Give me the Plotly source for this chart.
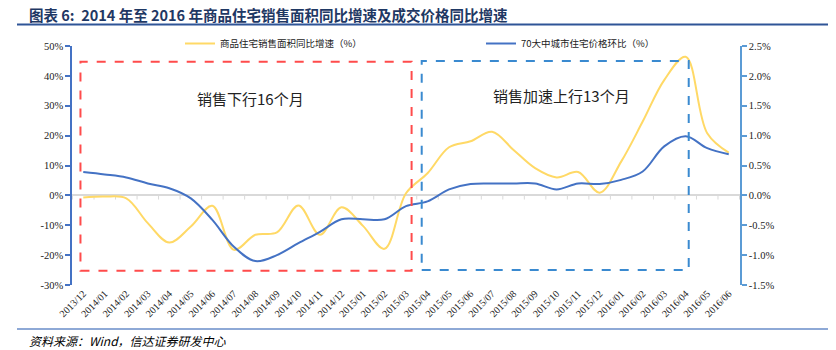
import plotly.graph_objects as go

months = ["2013/12", "2014/01", "2014/02", "2014/03", "2014/04", "2014/05", "2014/06", "2014/07",
          "2014/08", "2014/09", "2014/10", "2014/11", "2014/12", "2015/01", "2015/02", "2015/03",
          "2015/04", "2015/05", "2015/06", "2015/07", "2015/08", "2015/09", "2015/10", "2015/11",
          "2015/12", "2016/01", "2016/02", "2016/03", "2016/04", "2016/05", "2016/06"]

sales_area_yoy = [-0.7, -0.4, -1.0, -9.3, -15.8, -10.4, -3.5, -18.2, -13.2, -12.4, -3.4, -13.2,
                  -4.0, -10.2, -17.9, 0.7, 7.4, 16.1, 18.1, 21.3, 15.2, 9.1, 6.0, 7.8,
                  0.9, 11.3, 24.7, 38.6, 46.4, 20.8, 14.3]

price_mom = [0.39, 0.35, 0.30, 0.20, 0.12, -0.05, -0.41, -0.86, -1.10, -1.00, -0.80, -0.61,
             -0.40, -0.40, -0.40, -0.18, -0.10, 0.10, 0.19, 0.20, 0.20, 0.20, 0.10, 0.20,
             0.19, 0.26, 0.40, 0.82, 0.99, 0.79, 0.69]

left_ticks = [-30, -20, -10, 0, 10, 20, 30, 40, 50]
right_ticks = [-1.5, -1.0, -0.5, 0.0, 0.5, 1.0, 1.5, 2.0, 2.5]

name_area = "商品住宅销售面积同比增速（%）"
name_price = "70大中城市住宅价格环比（%）"
title_text = "图表 6:  2014 年至 2016 年商品住宅销售面积同比增速及成交价格同比增速"
source_text = "资料来源：Wind，信达证券研发中心"
label_down = "销售下行16个月"
label_up = "销售加速上行13个月"

W, H = 836, 350
L, R, T, B = 72, 96, 46, 65
PW = W - L - R
PH = H - T - B


def px(x):
    return (x - L) / PW


def py(y):
    return 1 - (y - T) / PH


SERIF = "Liberation Serif"
CJK = "Noto Sans CJK SC"

fig = go.Figure()
fig.add_trace(go.Scatter(x=months, y=sales_area_yoy, name=name_area, mode="lines",
                         line=dict(color="#FFD966", width=2, shape="spline", smoothing=1.0),
                         yaxis="y", legend="legend"))
fig.add_trace(go.Scatter(x=months, y=price_mom, name=name_price, mode="lines",
                         line=dict(color="#4472C4", width=2, shape="spline", smoothing=1.0),
                         yaxis="y2", legend="legend2"))

shapes = []
# dashed boxes
shapes.append(dict(type="rect", xref="x", yref="y", x0=-0.13, x1=15.26, y0=-25.25, y1=44.7,
                   line=dict(color="#FF4B4B", width=2, dash="dash"), layer="above"))
shapes.append(dict(type="rect", xref="x", yref="y", x0=15.73, x1=28.14, y0=-25.0, y1=45.0,
                   line=dict(color="#3A8AD0", width=2, dash="dash"), layer="above"))
# small category boundary ticks on zero line
for i in range(len(months) + 1):
    shapes.append(dict(type="line", xref="x", yref="y", x0=i - 0.5, x1=i - 0.5, y0=0, y1=-1.4,
                       line=dict(color="#D9D9D9", width=1), layer="below"))
# title underline and footer line
shapes.append(dict(type="line", xref="paper", yref="paper", x0=px(17), x1=px(828), y0=py(24.5), y1=py(24.5),
                   line=dict(color="#2F5597", width=2)))
shapes.append(dict(type="line", xref="paper", yref="paper", x0=px(17), x1=px(828), y0=py(329), y1=py(329),
                   line=dict(color="#8EA9D6", width=2)))

annotations = [
    dict(text="<b>" + title_text + "</b>", xref="paper", yref="paper", x=px(27), y=py(14),
         xanchor="left", yanchor="middle", showarrow=False,
         font=dict(family=CJK, size=14.5, color="#1F3864")),
    dict(text="<i>" + source_text + "</i>", xref="paper", yref="paper", x=px(27), y=py(340),
         xanchor="left", yanchor="middle", showarrow=False,
         font=dict(family=CJK, size=12, color="#000000")),
    dict(text=label_down, xref="paper", yref="paper", x=px(251), y=py(98),
         xanchor="center", yanchor="middle", showarrow=False,
         font=dict(family=CJK, size=15, color="#222222")),
    dict(text=label_up, xref="paper", yref="paper", x=px(561), y=py(95),
         xanchor="center", yanchor="middle", showarrow=False,
         font=dict(family=CJK, size=15, color="#222222")),
]

legend_common = dict(orientation="h", xanchor="left", yanchor="middle",
                     font=dict(family=CJK, size=9.5, color="#222222"),
                     bgcolor="rgba(0,0,0,0)", itemwidth=30, borderwidth=0)

fig.update_layout(
    width=W, height=H,
    margin=dict(l=L, r=R, t=T, b=B, pad=0),
    paper_bgcolor="white", plot_bgcolor="white",
    showlegend=True,
    legend=dict(x=px(180), y=py(43.5), **legend_common),
    legend2=dict(x=px(481), y=py(43.5), **legend_common),
    xaxis=dict(type="category", tickangle=-45, tickfont=dict(family=SERIF, size=10, color="#222222"),
               showgrid=False, showline=False, ticks="", zeroline=False),
    yaxis=dict(range=[-30, 50], tickvals=left_ticks, ticktext=[f"{v}%" for v in left_ticks],
               tickfont=dict(family=SERIF, size=10.5, color="#222222"),
               showgrid=False, zeroline=True, zerolinecolor="#D9D9D9", zerolinewidth=2,
               showline=True, linecolor="#4472C4", linewidth=1.5,
               ticks="outside", ticklen=5, tickcolor="#4472C4", tickwidth=1.5),
    yaxis2=dict(range=[-1.5, 2.5], overlaying="y", side="right", tickvals=right_ticks,
                ticktext=[f"{v:.1f}%" for v in right_ticks],
                tickfont=dict(family=SERIF, size=10.5, color="#222222"),
                showgrid=False, zeroline=False,
                showline=True, linecolor="#5B9BD5", linewidth=1.5,
                ticks="outside", ticklen=5, tickcolor="#5B9BD5", tickwidth=1.5),
    shapes=shapes,
    annotations=annotations,
)

fig.write_html("out.html")
